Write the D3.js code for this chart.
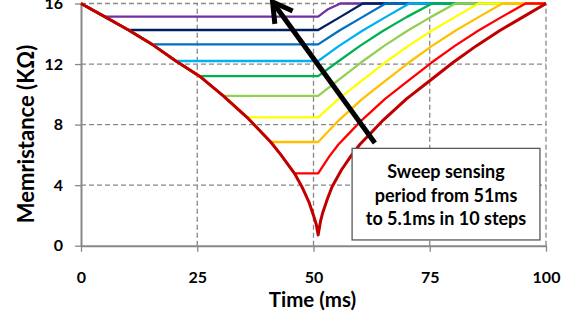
<!DOCTYPE html>
<html>
<head>
<meta charset="utf-8">
<script src="https://cdn.jsdelivr.net/npm/d3@7"></script>
<style>
  body { margin: 0; background: #fff; }
  text { font-family: Lato, "Open Sans", sans-serif; font-weight: bold; }
</style>
</head>
<body>
<div id="chart"></div>
<script>
// x ticks / y ticks
const timeTicks = [0, 25, 50, 75, 100];
const resTicks = [0, 4, 8, 12, 16];

// main (51ms) curve, falling branch then rising branch
const downTime = [0, 5.1, 10.2, 15.3, 20.4, 25.5, 30.6, 35.7, 40.8, 43, 45.9, 47.5, 49, 50, 50.6, 51];
const downValue = [16, 15.13, 14.25, 13.3, 12.2, 11.2, 9.9, 8.48, 6.85, 6.0, 4.78, 3.9, 2.9, 2.0, 1.4, 0.7];
const upTime = [51.5, 52, 53, 54, 56, 58, 60, 62.5, 65, 70, 75, 80, 85, 90, 95, 100];
const upValue = [1.6, 2.2, 3.1, 3.9, 5.0, 5.9, 6.7, 7.5, 8.3, 9.7, 10.9, 12.1, 13.2, 14.2, 15.1, 16];

// shorter sensing periods: hold level, then rise
const holdStart = [5.1, 10.2, 15.3, 20.4, 25.5, 30.6, 35.7, 40.8, 45.9];
const holdLevel = [15.13, 14.25, 13.3, 12.2, 11.2, 9.9, 8.48, 6.85, 4.78];
const holdEnd = 51;
const riseTime = [
  [53, 55.8],
  [55.7, 60.6],
  [55.5, 60.5, 65.5],
  [55.5, 60.5, 65.5, 70.6],
  [55, 60, 65, 70, 75.5],
  [55.2, 60.2, 65.2, 70.2, 75.2, 80.5],
  [55.4, 60.4, 65.4, 70.4, 75.4, 80.4, 85.5],
  [53, 55.5, 60.5, 65.5, 70.5, 75.5, 80.5, 85.5, 90.6],
  [53.4, 55.4, 57.9, 60.4, 65.4, 70.4, 75.4, 80.4, 85.4, 90.4, 95.6]
];
const riseValue = [
  [15.6, 16],
  [15.1, 16],
  [14.2, 15.1, 16],
  [13.2, 14.2, 15.1, 16],
  [12.1, 13.2, 14.2, 15.1, 16],
  [10.9, 12.1, 13.2, 14.2, 15.1, 16],
  [9.7, 10.9, 12.1, 13.2, 14.2, 15.1, 16],
  [7.5, 8.3, 9.7, 10.9, 12.1, 13.2, 14.2, 15.1, 16],
  [5.9, 6.7, 7.5, 8.3, 9.7, 10.9, 12.1, 13.2, 14.2, 15.1, 16]
];
const stepColors = ["#7030A0", "#002060", "#0070C0", "#00B0F0", "#00B050", "#92D050", "#FFFF00", "#FFC000", "#FF0000"];
const mainColor = "#C00000";

const noteLines = ["Sweep sensing", "period from 51ms", "to 5.1ms in 10 steps"];

const width = 575, height = 321;
const svg = d3.select("#chart").append("svg")
  .attr("width", width)
  .attr("height", height);

const x = d3.scaleLinear().domain([0, 100]).range([81, 546]);
const y = d3.scaleLinear().domain([0, 16]).range([245.7, 3.5]);

const grid = "#888888";

// gridlines
svg.append("g").selectAll("line")
  .data(resTicks.slice(1))
  .enter().append("line")
  .attr("x1", x(0)).attr("x2", x(100))
  .attr("y1", d => y(d)).attr("y2", d => y(d))
  .attr("stroke", grid).attr("stroke-width", 1.3)
  .attr("stroke-dasharray", "5,3");

svg.append("g").selectAll("line")
  .data(timeTicks.slice(1))
  .enter().append("line")
  .attr("y1", y(0)).attr("y2", y(16))
  .attr("x1", d => x(d)).attr("x2", d => x(d))
  .attr("stroke", grid).attr("stroke-width", 1.3)
  .attr("stroke-dasharray", "5,3");

// axes
const yAxis = svg.append("g")
  .attr("transform", "translate(" + x(0) + ",0)")
  .call(d3.axisLeft(y).tickValues(resTicks).tickSize(6).tickSizeOuter(0).tickPadding(12));

const xAxis = svg.append("g")
  .attr("transform", "translate(0," + y(0) + ")")
  .call(d3.axisBottom(x).tickValues(timeTicks).tickSize(6).tickSizeOuter(0).tickPadding(20));

[xAxis, yAxis].forEach(a => {
  a.select(".domain").attr("stroke", grid).attr("stroke-width", 2);
  a.selectAll(".tick line").attr("stroke", grid).attr("stroke-width", 1.3);
  a.selectAll(".tick text")
    .attr("fill", "#000")
    .style("font-size", "16px")
    .style("font-family", "Lato, sans-serif")
    .style("font-weight", "bold");
});

// build series
const line = d3.line()
  .x(d => x(d[0]))
  .y(d => y(d[1]));

const stepSeries = holdStart.map((t0, i) => {
  const pts = [];
  downTime.forEach((t, j) => { if (t <= t0) pts.push([t, downValue[j]]); });
  pts.push([holdEnd, holdLevel[i]]);
  riseTime[i].forEach((t, j) => pts.push([t, riseValue[i][j]]));
  pts.push([100, 16]);
  return pts;
});

const mainSeries = downTime.map((t, j) => [t, downValue[j]])
  .concat(upTime.map((t, j) => [t, upValue[j]]));

svg.append("g").selectAll("path")
  .data(stepSeries)
  .enter().append("path")
  .attr("d", line)
  .attr("fill", "none")
  .attr("stroke", (d, i) => stepColors[i])
  .attr("stroke-width", 2.3)
  .attr("stroke-linejoin", "round");

svg.append("path")
  .attr("d", line(mainSeries))
  .attr("fill", "none")
  .attr("stroke", mainColor)
  .attr("stroke-width", 3)
  .attr("stroke-linejoin", "round");

// arrow annotation
const tail = [63.2, 6.78], tip = [41.2, 16.1];
const tx = x(tip[0]), ty = y(tip[1]);
const ux = x(tail[0]) - tx, uy = y(tail[1]) - ty;
const len = Math.sqrt(ux * ux + uy * uy);
const bx = ux / len, by = uy / len;
const headLen = 22, ang = Math.PI / 6;
const barb = s => [tx + headLen * (bx * Math.cos(s * ang) - by * Math.sin(s * ang)),
                   ty + headLen * (bx * Math.sin(s * ang) + by * Math.cos(s * ang))];

svg.append("line")
  .attr("x1", x(tail[0])).attr("y1", y(tail[1]))
  .attr("x2", tx + 3 * bx).attr("y2", ty + 3 * by)
  .attr("stroke", "#000").attr("stroke-width", 5);

svg.append("path")
  .attr("d", "M" + barb(1) + "L" + [tx, ty] + "L" + barb(-1))
  .attr("fill", "none")
  .attr("stroke", "#000")
  .attr("stroke-width", 5)
  .attr("stroke-linejoin", "miter");

// note box
const box = { x0: 58.3, x1: 98.7, y0: 6.43, y1: 0.38 };
svg.append("rect")
  .attr("x", x(box.x0)).attr("y", y(box.y0))
  .attr("width", x(box.x1) - x(box.x0))
  .attr("height", y(box.y1) - y(box.y0))
  .attr("fill", "#fff")
  .attr("stroke", "#595959")
  .attr("stroke-width", 1.3);

svg.append("g").selectAll("text")
  .data(noteLines)
  .enter().append("text")
  .attr("x", (x(box.x0) + x(box.x1)) / 2)
  .attr("y", (d, i) => 178 + i * 23.7)
  .attr("text-anchor", "middle")
  .style("font-size", "18px")
  .text(d => d);

// axis titles
svg.append("text")
  .attr("x", 312.5)
  .attr("y", 307)
  .attr("text-anchor", "middle")
  .style("font-size", "20.5px")
  .text("Time (ms)");

svg.append("text")
  .attr("transform", "translate(34,134) rotate(-90)")
  .attr("text-anchor", "middle")
  .style("font-size", "22px")
  .text("Memristance (KΩ)");
</script>
</body>
</html>
